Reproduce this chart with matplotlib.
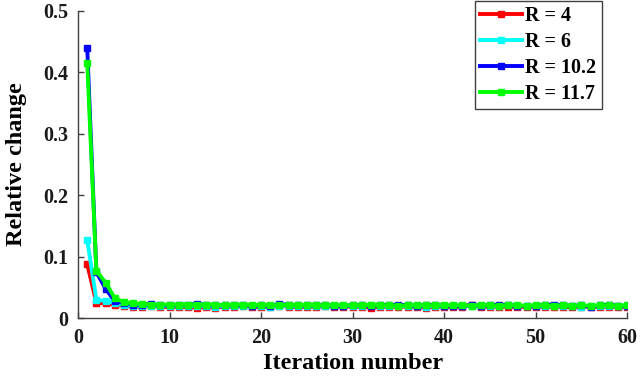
import matplotlib
matplotlib.use("Agg")
import matplotlib.pyplot as plt

iterations = list(range(1, 61))

r4 = [0.088, 0.025, 0.024, 0.022, 0.020, 0.019, 0.019, 0.020, 0.019, 0.018,
      0.019, 0.018, 0.017, 0.018, 0.017, 0.019, 0.019, 0.020, 0.019, 0.018,
      0.019, 0.020, 0.019, 0.018, 0.019, 0.019, 0.020, 0.019, 0.019, 0.019,
      0.019, 0.017, 0.019, 0.019, 0.019, 0.019, 0.019, 0.017, 0.019, 0.019,
      0.018, 0.019, 0.022, 0.019, 0.019, 0.019, 0.019, 0.018, 0.019, 0.019,
      0.019, 0.019, 0.019, 0.018, 0.019, 0.019, 0.019, 0.019, 0.019, 0.019]
r6 = [0.127, 0.030, 0.028, 0.025, 0.021, 0.020, 0.020, 0.020, 0.020, 0.020,
      0.020, 0.020, 0.020, 0.020, 0.019, 0.020, 0.020, 0.020, 0.020, 0.020,
      0.019, 0.020, 0.020, 0.020, 0.020, 0.020, 0.020, 0.020, 0.020, 0.020,
      0.020, 0.021, 0.020, 0.020, 0.020, 0.020, 0.020, 0.019, 0.020, 0.020,
      0.020, 0.020, 0.020, 0.020, 0.020, 0.020, 0.021, 0.020, 0.020, 0.020,
      0.020, 0.020, 0.020, 0.020, 0.019, 0.020, 0.020, 0.020, 0.020, 0.020]
r102 = [0.440, 0.075, 0.048, 0.028, 0.025, 0.022, 0.022, 0.023, 0.021, 0.021,
        0.022, 0.022, 0.023, 0.022, 0.021, 0.021, 0.021, 0.021, 0.020, 0.021,
        0.020, 0.023, 0.022, 0.021, 0.021, 0.021, 0.021, 0.020, 0.020, 0.021,
        0.021, 0.020, 0.022, 0.021, 0.022, 0.021, 0.020, 0.021, 0.022, 0.020,
        0.020, 0.020, 0.021, 0.020, 0.021, 0.022, 0.021, 0.020, 0.020, 0.020,
        0.022, 0.022, 0.021, 0.020, 0.021, 0.018, 0.021, 0.022, 0.020, 0.020]
r117 = [0.415, 0.077, 0.058, 0.033, 0.026, 0.024, 0.023, 0.022, 0.022, 0.022,
        0.022, 0.022, 0.022, 0.022, 0.022, 0.021, 0.022, 0.022, 0.021, 0.022,
        0.021, 0.021, 0.022, 0.021, 0.022, 0.021, 0.021, 0.021, 0.021, 0.021,
        0.021, 0.022, 0.021, 0.021, 0.020, 0.021, 0.021, 0.021, 0.021, 0.021,
        0.021, 0.021, 0.020, 0.021, 0.021, 0.020, 0.021, 0.021, 0.020, 0.021,
        0.021, 0.020, 0.021, 0.020, 0.021, 0.020, 0.021, 0.021, 0.020, 0.021]

labels = ["R = 4", "R = 6", "R = 10.2", "R = 11.7"]
colors = ["#ff0000", "#00ffff", "#0000ff", "#00ff00"]
series = [r4, r6, r102, r117]
xticks = [0, 10, 20, 30, 40, 50, 60]
yticks = [0, 0.1, 0.2, 0.3, 0.4, 0.5]
ytick_labels = ["0", "0.1", "0.2", "0.3", "0.4", "0.5"]

plt.rcParams['font.family'] = ['Liberation Serif', 'DejaVu Serif']
plt.rcParams['font.weight'] = 'bold'

fig = plt.figure(figsize=(6.4, 3.77), dpi=100)
ax = fig.add_axes([0.122, 0.156, 0.858, 0.815])

for y, c, lab in zip(series, colors, labels):
    ax.plot(iterations, y, color=c, lw=2.8, marker='s', markersize=4, label=lab)

ax.set_xlim(0, 60)
ax.set_ylim(0, 0.5)
ax.set_xticks(xticks)
ax.set_yticks(yticks)
ax.set_yticklabels(ytick_labels)
ax.spines['top'].set_visible(False)
ax.spines['right'].set_visible(False)
for s in ['left', 'bottom']:
    ax.spines[s].set_color('#404040')
    ax.spines[s].set_linewidth(1.0)
ax.tick_params(direction='in', length=4, width=1, colors='#404040',
               labelcolor='#1a1a1a', labelsize=14.5, pad=7)
for t in ax.get_xticklabels() + ax.get_yticklabels():
    t.set_fontweight('bold')

ax.set_xlabel("Iteration number", fontsize=17.5, fontweight='bold', labelpad=4)
ax.set_ylabel("Relative change", fontsize=17.5, fontweight='bold', labelpad=12)

leg = fig.legend(loc='upper right', bbox_to_anchor=(0.94, 0.997),
                 prop={'size': 14.5, 'weight': 'bold'}, handlelength=2.1,
                 handletextpad=0.15, labelspacing=0.3, borderpad=0.25,
                 borderaxespad=0.0,
                 fancybox=False, framealpha=1, edgecolor='#404040')
leg.get_frame().set_linewidth(1.0)

fig.savefig("out.png", dpi=100)
